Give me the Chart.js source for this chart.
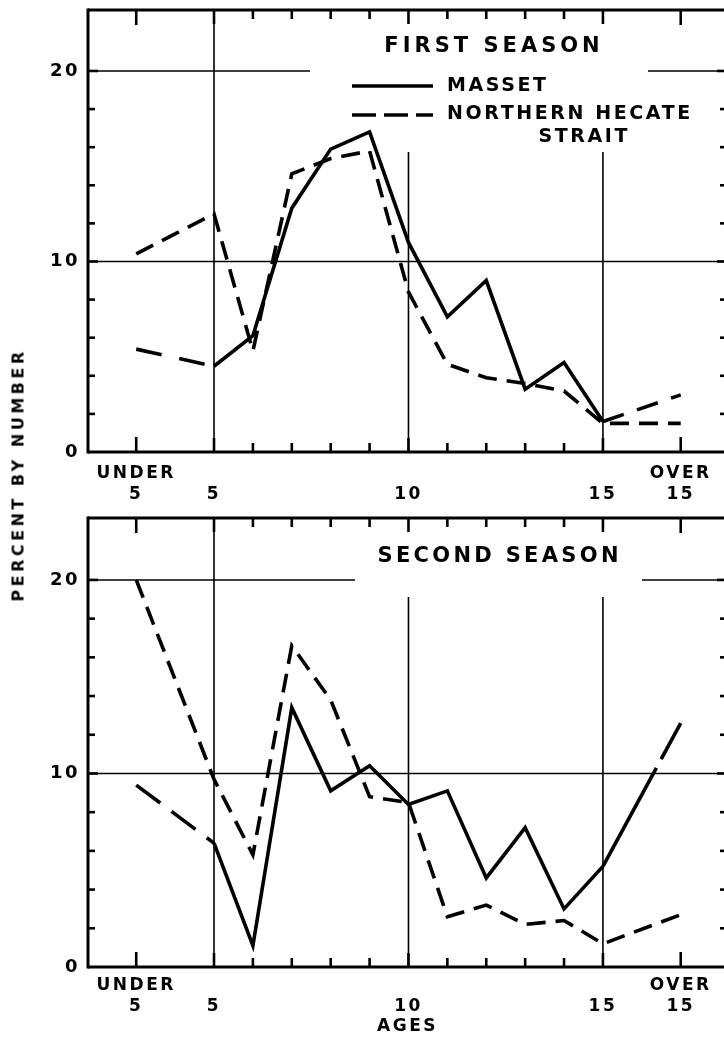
<!DOCTYPE html>
<html>
<head>
<meta charset="utf-8">
<script src="https://cdn.jsdelivr.net/npm/chart.js@4.4.1/dist/chart.umd.min.js"></script>
<style>
  html, body { margin: 0; padding: 0; background: #fff; overflow: hidden; }
  #page { position: relative; width: 724px; height: 1043px; overflow: hidden; }
  .panel { position: absolute; left: 0; width: 736px; }
  #top { top: 0; height: 505px; }
  #bottom { top: 505px; height: 538px; }
  #ytitle {
    position: absolute; left: 18px; top: 475px;
    transform: translate(-50%, -50%) rotate(-90deg);
    font: bold 16px "DejaVu Sans"; letter-spacing: 3.5px; white-space: nowrap;
  }
</style>
</head>
<body>
<div id="page">
  <div class="panel" id="top"><canvas id="c1"></canvas></div>
  <div class="panel" id="bottom"><canvas id="c2"></canvas></div>
  <div id="ytitle">PERCENT BY NUMBER</div>
</div>
<script>
// age classes and where they sit on the age axis
const ages = ['UNDER 5', '5', '6', '7', '8', '9', '10', '11', '12', '13', '14', '15', 'OVER 15'];
const agePos = [3, 5, 6, 7, 8, 9, 10, 11, 12, 13, 14, 15, 17];
const ageTickLabels = { 3: ['UNDER', '5'], 5: ['', '5'], 10: ['', '10'], 15: ['', '15'], 17: ['OVER', '15'] };

// percent by number
const firstMasset = [5.4, 4.5, 6.1, 12.8, 15.9, 16.8, 11.0, 7.1, 9.0, 3.3, 4.7, 1.6, 3.0];
const firstHecate = [10.4, 12.5, 5.3, 14.6, 15.4, 15.8, 8.4, 4.6, 3.9, 3.6, 3.2, 1.5, 1.5];
const secondMasset = [9.4, 6.4, 1.1, 13.4, 9.1, 10.4, 8.4, 9.1, 4.6, 7.2, 3.0, 5.2, 12.6];
const secondHecate = [20.0, 9.7, 5.8, 16.6, 13.8, 8.8, 8.5, 2.6, 3.2, 2.2, 2.4, 1.2, 2.7];

const yLabels = [0, 10, 20];
const yMinor = [2, 4, 6, 8, 12, 14, 16, 18];
const gridX = [5, 10, 15];
const gridY = [10, 20];

const FONT = '"DejaVu Sans"';

function line(ctx, x0, y0, x1, y1) {
  ctx.beginPath(); ctx.moveTo(x0, y0); ctx.lineTo(x1, y1); ctx.stroke();
}

function spaced(ctx, text, x, y, size, spacing, align) {
  ctx.font = 'bold ' + size + 'px ' + FONT;
  ctx.letterSpacing = spacing + 'px';
  ctx.textBaseline = 'middle';
  ctx.textAlign = 'left';
  let w = ctx.measureText(text).width - spacing;
  let sx = align === 'center' ? x - w / 2 : x;
  ctx.fillText(text, sx, y);
}

function noPad(s) {
  s.paddingTop = 0; s.paddingBottom = 0; s.paddingLeft = 0; s.paddingRight = 0;
}

const framePlugin = {
  id: 'frame',
  beforeDraw(chart) {
    chart.ctx.letterSpacing = '2.5px';
  },
  beforeDatasetsDraw(chart, args, o) {
    const { ctx, chartArea: a, scales: { x, y } } = chart;
    ctx.save();
    ctx.strokeStyle = '#000';
    ctx.fillStyle = '#000';
    ctx.lineCap = 'butt';

    // grid
    ctx.lineWidth = 1.6;
    gridY.forEach(v => { const py = y.getPixelForValue(v); line(ctx, a.left, py, a.right, py); });
    gridX.forEach(v => { const px = x.getPixelForValue(v); line(ctx, px, a.top, px, a.bottom); });

    // white space behind title/legend
    ctx.fillStyle = '#fff';
    ctx.fillRect(o.box[0], a.top + 2, o.box[1] - o.box[0], o.box[2] - a.top - 2);
    ctx.fillStyle = '#000';

    spaced(ctx, o.title, o.titleX, o.titleY, 21, o.titleSpacing, 'center');
    if (o.legend) {
      ctx.lineWidth = 3.5;
      line(ctx, 352, 86, 433, 86);
      ctx.setLineDash([24, 8]);
      line(ctx, 352, 115, 433, 115);
      ctx.setLineDash([]);
      spaced(ctx, 'MASSET', 447, 86, 19, 2.6);
      spaced(ctx, 'NORTHERN HECATE', 447, 114, 19, 2.6);
      spaced(ctx, 'STRAIT', 583, 137, 19, 2.6, 'center');
    }

    // frame
    ctx.lineWidth = 3;
    line(ctx, a.left, a.top - 1.5, a.left, a.bottom + 1.5);
    line(ctx, a.left, a.top, a.right, a.top);
    line(ctx, a.left, a.bottom, a.right, a.bottom);
    line(ctx, a.right, a.top, a.right, a.bottom);

    // tick marks pointing inward
    ctx.lineWidth = 2.6;
    yMinor.concat(gridY).forEach(v => {
      const py = y.getPixelForValue(v);
      const len = gridY.includes(v) ? 10 : 7;
      line(ctx, a.left, py, a.left + len, py);
      line(ctx, a.right, py, a.right - len, py);
    });
    agePos.forEach((v, i) => {
      const px = x.getPixelForValue(v);
      const len = (i === 0 || i === agePos.length - 1) ? 15 : (gridX.includes(v) ? 14 : 9);
      line(ctx, px, a.bottom, px, a.bottom - len);
      line(ctx, px, a.top, px, a.top + len);
    });
    ctx.restore();
  }
};

function makeChart(id, masset, hecate, o) {
  const last = agePos.length - 1;
  return new Chart(document.getElementById(id), {
    type: 'line',
    data: {
      datasets: [
        {
          label: 'MASSET',
          data: agePos.map((v, i) => ({ x: v, y: masset[i] })),
          borderColor: '#000', borderWidth: 3.6, pointRadius: 0, tension: 0,
          borderJoinStyle: 'miter',
          segment: {
            borderDash: c => c.p0DataIndex === 0 ? o.headDash : (c.p1DataIndex === last ? o.tailDash : [])
          }
        },
        {
          label: 'NORTHERN HECATE STRAIT',
          data: agePos.map((v, i) => ({ x: v, y: hecate[i] })),
          borderColor: '#000', borderWidth: 3.6, pointRadius: 0, tension: 0,
          borderJoinStyle: 'miter',
          borderDash: [19, 10]
        }
      ]
    },
    options: {
      responsive: true,
      maintainAspectRatio: false,
      animation: false,
      events: [],
      layout: { padding: { top: o.padTop, right: 9, left: 0, bottom: 0 } },
      plugins: { legend: { display: false }, tooltip: { enabled: false }, frame: o },
      scales: {
        x: {
          type: 'linear', min: 1.76, max: 18.19,
          afterBuildTicks: s => { s.ticks = Object.keys(ageTickLabels).map(v => ({ value: +v })); },
          ticks: {
            callback: v => ageTickLabels[v],
            autoSkip: false, maxRotation: 0, color: '#000', padding: o.tickPad,
            font: { family: FONT, size: 17, weight: 'bold', lineHeight: 1.22 }
          },
          grid: { display: false, drawTicks: false },
          border: { display: false },
          title: o.xTitle
            ? { display: true, text: o.xTitle, color: '#000', padding: { top: 0, bottom: 6 },
                font: { family: FONT, size: 17, weight: 'bold' } }
            : { display: false },
          afterFit: s => { s.height = o.xHeight; noPad(s); }
        },
        y: {
          min: 0, max: 23.2,
          afterBuildTicks: s => { s.ticks = yLabels.map(v => ({ value: v })); },
          ticks: {
            color: '#000', padding: 8,
            font: { family: FONT, size: 18, weight: 'bold' }
          },
          grid: { display: false, drawTicks: false },
          border: { display: false },
          afterFit: s => { s.width = 88; noPad(s); }
        }
      }
    },
    plugins: [framePlugin]
  });
}

makeChart('c1', firstMasset, firstHecate, {
  padTop: 10, xHeight: 53, tickPad: 11,
  box: [310, 648, 152],
  title: 'FIRST SEASON', titleX: 492, titleY: 47, titleSpacing: 4,
  legend: true,
  headDash: [26, 18], tailDash: [22, 14]
});

makeChart('c2', secondMasset, secondHecate, {
  padTop: 13, xHeight: 76, xTitle: 'AGES', tickPad: 8,
  box: [355, 642, 92],
  title: 'SECOND SEASON', titleX: 498, titleY: 52, titleSpacing: 3.3,
  legend: false,
  headDash: [30, 14], tailDash: [112, 10]
});
</script>
</body>
</html>
